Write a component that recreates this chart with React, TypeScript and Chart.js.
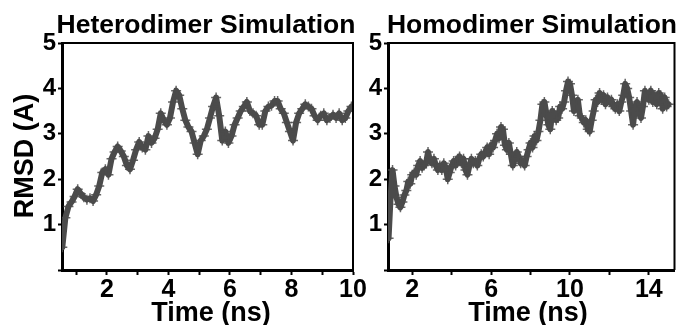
import React, { useEffect, useRef } from "react";
import { Chart, registerables } from "chart.js";

Chart.register(...registerables);

const FONT = '"Liberation Sans", Arial, Helvetica, sans-serif';
const TRACE_COLOR = "#4b4b4b";

// RMSD (Å) sampled every 0.1 ns — heterodimer run
const heteroStart = 0.55;
const heteroStep = 0.1;
const heteroRmsd = [
  0.5, 1.15, 1.4, 1.5, 1.62, 1.78, 1.68, 1.6, 1.55, 1.58,
  1.52, 1.66, 1.85, 2.15, 2.22, 2.1, 2.45, 2.6, 2.72, 2.62,
  2.5, 2.3, 2.22, 2.42, 2.65, 2.82, 2.7, 2.65, 2.95, 2.8,
  2.9, 3.1, 3.45, 3.3, 3.2, 3.35, 3.7, 3.95, 3.85, 3.55,
  3.3, 3.15, 3.05, 2.8, 2.55, 2.85, 2.95, 3.1, 3.35, 3.6,
  3.8, 3.4, 2.85, 3.05, 2.8, 2.95, 3.2, 3.35, 3.5, 3.6,
  3.7, 3.5, 3.45, 3.4, 3.2, 3.2, 3.5, 3.6, 3.62, 3.72,
  3.72, 3.55, 3.45, 3.25, 3.05, 2.85, 3.25, 3.45, 3.55, 3.65,
  3.6, 3.55, 3.4, 3.3, 3.4, 3.45, 3.3, 3.35, 3.42, 3.35,
  3.45, 3.3, 3.35, 3.5, 3.6,
];

// RMSD (Å) sampled every 0.1 ns — homodimer run
const homoStart = 0.8;
const homoStep = 0.1;
const homoRmsd = [
  0.7, 1.6, 2.2, 1.85, 1.6, 1.45, 1.38, 1.5, 1.65, 1.75,
  1.95, 1.9, 2.1, 2.15, 2.1, 2.3, 2.4, 2.25, 2.3, 2.35,
  2.6, 2.4, 2.35, 2.45, 2.3, 2.2, 2.3, 2.2, 2.35, 2.25,
  2.0, 2.15, 2.3, 2.4, 2.3, 2.45, 2.5, 2.35, 2.45, 2.2,
  2.1, 2.3, 2.45, 2.35, 2.4, 2.3, 2.45, 2.55, 2.5, 2.6,
  2.7, 2.55, 2.75, 2.7, 2.85, 3.0, 2.9, 3.15, 3.1, 2.75,
  2.65, 2.8, 2.55, 2.3, 2.45, 2.6, 2.5, 2.35, 2.4, 2.3,
  2.5, 2.65, 2.8, 2.7, 2.95, 2.85, 3.05, 3.3, 3.65, 3.7,
  3.45, 3.2, 3.1, 3.5, 3.45, 3.3, 3.35, 3.6, 3.55, 3.7,
  3.95, 4.15, 4.1, 3.85, 3.5, 3.65, 3.75, 3.4, 3.35, 3.25,
  3.3, 3.1, 3.05, 3.3, 3.5, 3.75, 3.7, 3.9, 3.75, 3.85,
  3.65, 3.8, 3.7, 3.75, 3.6, 3.55, 3.65, 3.5, 3.7, 3.85,
  4.1, 4.0, 3.8, 3.5, 3.2, 3.6, 3.7, 3.45, 3.35, 3.6,
  3.95, 3.85, 3.75, 3.95, 3.7, 3.85, 3.65, 3.9, 3.85, 3.55,
  3.8, 3.6, 3.65,
];

const rmsdTicks = [0, 1, 2, 3, 4, 5];
const rmsdLabels = [1, 2, 3, 4, 5];
const heteroTimeTicks = [1, 2, 3, 4, 5, 6, 7, 8, 9, 10];
const heteroTimeLabels = [2, 4, 6, 8, 10];
const homoTimeTicks = [2, 4, 6, 8, 10, 12, 14];
const homoTimeLabels = [2, 6, 10, 14];

type PanelSpec = {
  title: string;
  xTitle: string;
  yTitle?: string;
  start: number;
  step: number;
  values: number[];
  xMin: number;
  xMax: number;
  xTicks: number[];
  xLabels: number[];
  canvasLeft: number;
  canvasWidth: number;
  yAxisWidth: number;
  padRight: number;
  titleX: number;
  xTitleX: number;
};

const decor = {
  id: "panelDecor",
  afterDraw(chart: any, _args: any, opts: any) {
    const { ctx, chartArea: a } = chart;
    ctx.save();
    // top and right frame
    ctx.strokeStyle = "#000";
    ctx.lineWidth = 2;
    ctx.beginPath();
    ctx.moveTo(a.left, a.top);
    ctx.lineTo(a.right, a.top);
    ctx.lineTo(a.right, a.bottom);
    ctx.stroke();
    ctx.fillStyle = "#000";
    ctx.textAlign = "center";
    ctx.textBaseline = "alphabetic";
    ctx.font = `bold 26.5px ${FONT}`;
    ctx.fillText(opts.title, opts.titleX, 33);
    ctx.font = `bold 27px ${FONT}`;
    ctx.fillText(opts.xTitle, opts.xTitleX, 321);
    if (opts.yTitle) {
      ctx.translate(33, 156);
      ctx.rotate(-Math.PI / 2);
      ctx.fillText(opts.yTitle, 0, 0);
    }
    ctx.restore();
  },
};

function Panel({ spec }: { spec: PanelSpec }) {
  const ref = useRef<HTMLCanvasElement>(null);
  useEffect(() => {
    const points = spec.values.map((v, i) => ({
      x: Number((spec.start + i * spec.step).toFixed(2)),
      y: v,
    }));
    const chart = new Chart(ref.current as HTMLCanvasElement, {
      type: "line",
      data: {
        datasets: [
          {
            data: points,
            borderColor: TRACE_COLOR,
            borderWidth: 6,
            borderJoinStyle: "round",
            borderCapStyle: "round",
            pointStyle: "cross",
            pointRadius: 5,
            pointBorderWidth: 1.5,
            pointBorderColor: "rgba(75,75,75,0.85)",
            pointBackgroundColor: TRACE_COLOR,
            tension: 0,
          },
        ],
      },
      plugins: [decor],
      options: {
        animation: false,
        responsive: false,
        devicePixelRatio: 1,
        layout: { padding: { top: 43, right: spec.padRight, bottom: 0, left: 0 } },
        plugins: {
          legend: { display: false },
          tooltip: { enabled: false },
          title: { display: false },
          panelDecor: {
            title: spec.title,
            xTitle: spec.xTitle,
            yTitle: spec.yTitle,
            titleX: spec.titleX,
            xTitleX: spec.xTitleX,
          },
        } as any,
        scales: {
          x: {
            type: "linear",
            min: spec.xMin,
            max: spec.xMax,
            afterBuildTicks: (s: any) => {
              s.ticks = spec.xTicks.map((v) => ({ value: v }));
            },
            afterFit: (s: any) => {
              s.height = 55;
            },
            ticks: {
              autoSkip: false,
              maxRotation: 0,
              padding: 0,
              color: "#000",
              font: { family: FONT, size: 25, weight: "bold" },
              callback: (v: any) => (spec.xLabels.includes(Number(v)) ? String(v) : ""),
            },
            grid: {
              display: true,
              drawOnChartArea: false,
              drawTicks: true,
              tickLength: 5,
              tickWidth: 2,
              tickColor: "#000",
            },
            border: { display: true, color: "#000", width: 3 },
          },
          y: {
            type: "linear",
            min: 0,
            max: 5,
            afterBuildTicks: (s: any) => {
              s.ticks = rmsdTicks.map((v) => ({ value: v }));
            },
            afterFit: (s: any) => {
              s.width = spec.yAxisWidth;
            },
            ticks: {
              autoSkip: false,
              padding: 2,
              color: "#000",
              font: { family: FONT, size: 24, weight: "bold" },
              callback: (v: any) => (rmsdLabels.includes(Number(v)) ? String(v) : ""),
            },
            grid: {
              display: true,
              drawOnChartArea: false,
              drawTicks: true,
              tickLength: 4,
              tickWidth: 2,
              tickColor: "#000",
            },
            border: { display: true, color: "#000", width: 3 },
          },
        },
      } as any,
    });
    return () => chart.destroy();
  }, [spec]);
  return (
    <canvas
      ref={ref}
      width={spec.canvasWidth}
      height={325}
      style={{
        position: "absolute",
        left: spec.canvasLeft,
        top: 0,
        width: spec.canvasWidth,
        height: 325,
      }}
    />
  );
}

const heteroPanel: PanelSpec = {
  title: "Heterodimer Simulation",
  xTitle: "Time (ns)",
  yTitle: "RMSD (A)",
  start: heteroStart,
  step: heteroStep,
  values: heteroRmsd,
  xMin: 0.54,
  xMax: 10,
  xTicks: heteroTimeTicks,
  xLabels: heteroTimeLabels,
  canvasLeft: 0,
  canvasWidth: 372,
  yAxisWidth: 62,
  padRight: 19,
  titleX: 206,
  xTitleX: 211,
};

const homoPanel: PanelSpec = {
  title: "Homodimer Simulation",
  xTitle: "Time (ns)",
  start: homoStart,
  step: homoStep,
  values: homoRmsd,
  xMin: 0.77,
  xMax: 15.3,
  xTicks: homoTimeTicks,
  xLabels: homoTimeLabels,
  canvasLeft: 356,
  canvasWidth: 325,
  yAxisWidth: 32,
  padRight: 6,
  titleX: 176,
  xTitleX: 172,
};

export default function App() {
  return (
    <div
      style={{
        position: "fixed",
        left: 0,
        top: 0,
        width: 681,
        height: 325,
        background: "#fff",
        overflow: "hidden",
      }}
    >
      <Panel spec={heteroPanel} />
      <Panel spec={homoPanel} />
    </div>
  );
}
